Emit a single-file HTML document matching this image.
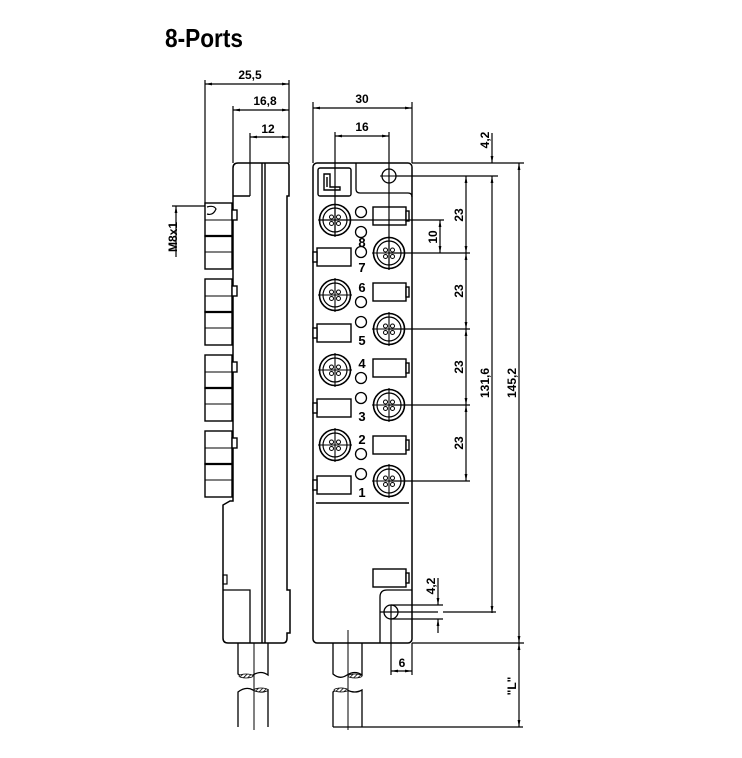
<!DOCTYPE html>
<html><head><meta charset="utf-8"><style>
html,body{margin:0;padding:0;background:#fff;}
svg{display:block;}
text{font-family:"Liberation Sans Narrow","Liberation Sans",sans-serif;font-weight:bold;fill:#000;}
</style></head><body>
<svg width="742" height="758" viewBox="0 0 742 758" xmlns="http://www.w3.org/2000/svg">
<defs>
<marker id="a" viewBox="0 0 10 10" refX="10" refY="5" markerWidth="6" markerHeight="6" orient="auto-start-reverse"><path d="M0,3 L10,5 L0,7z" fill="#000"/></marker>
<pattern id="h" width="3" height="3" patternUnits="userSpaceOnUse" patternTransform="rotate(45)"><rect width="3" height="3" fill="#fff"/><line x1="0" y1="0" x2="0" y2="3" stroke="#000" stroke-width="1.6"/></pattern>
<g id="port" fill="none" stroke="#000">
<circle r="15.5" stroke-width="1.6"/><circle r="12" stroke-width="1.2"/>
<circle cx="-3.5" cy="-3" r="2" stroke-width="1"/><circle cx="3.5" cy="-3" r="2" stroke-width="1"/><circle cx="-3.5" cy="3.5" r="2" stroke-width="1"/><circle cx="3.5" cy="3.5" r="2" stroke-width="1"/>
<line x1="-17" y1="0" x2="17" y2="0" stroke-width="1.1"/><line x1="0" y1="-17" x2="0" y2="17" stroke-width="1.1"/>
</g>
<g id="rr" fill="#fff" stroke="#000" stroke-width="1.4"><rect x="0" y="-9" width="33" height="18"/><rect x="33" y="-5" width="3" height="10"/></g>
<g id="rl" fill="#fff" stroke="#000" stroke-width="1.4"><rect x="0" y="-9" width="34" height="18"/><rect x="-4" y="-5" width="4" height="10"/></g>
<g id="cg" fill="#fff" stroke="#000" stroke-width="1.4">
<rect x="205" y="0" width="27" height="33"/><line x1="205" y1="17" x2="232" y2="17" stroke-width="1"/>
<rect x="205" y="33" width="27" height="33"/><line x1="205" y1="49" x2="232" y2="49" stroke-width="1"/>
<line x1="205" y1="33" x2="232" y2="33" stroke-width="2.2"/>
<rect x="232" y="7" width="5" height="10"/>
</g>
</defs>

<text x="165" y="47" font-size="26" textLength="78" lengthAdjust="spacingAndGlyphs">8-Ports</text>

<g stroke="#000" stroke-width="1.2" fill="none">
<line x1="205" y1="80" x2="205" y2="206"/>
<line x1="289" y1="80" x2="289" y2="163"/>
<line x1="205" y1="84" x2="289" y2="84" marker-start="url(#a)" marker-end="url(#a)"/>
<line x1="233" y1="106" x2="233" y2="163"/>
<line x1="233" y1="110" x2="289" y2="110" marker-start="url(#a)" marker-end="url(#a)"/>
<line x1="250" y1="133" x2="250" y2="196"/>
<line x1="250" y1="137" x2="289" y2="137" marker-start="url(#a)" marker-end="url(#a)"/>
<line x1="172" y1="206" x2="206" y2="206"/>
<line x1="176" y1="206" x2="176" y2="257" marker-start="url(#a)"/>

<path d="M233,196 V168 Q233,163 238,163 H287 Q289,163 289,166 V196 H287 V590 H290 V633 H287 V638 Q287,643 283,643 H228 Q223,643 223,638 V505 L230,501 H233 V196 H250" stroke-width="1.5"/>
<line x1="262" y1="163" x2="262" y2="643" stroke-width="1.4"/>
<line x1="265" y1="163" x2="265" y2="643" stroke-width="1.4"/>
<path d="M223,590 H250 V643" stroke-width="1.3"/>
<rect x="223" y="575" width="4" height="9"/>
</g>
<use href="#cg" transform="translate(0,203)"/>
<use href="#cg" transform="translate(0,279)"/>
<use href="#cg" transform="translate(0,355)"/>
<use href="#cg" transform="translate(0,431)"/>
<path d="M207,207 Q214,205 216,209 Q213,216 207,214" fill="none" stroke="#000" stroke-width="1.2"/>

<g stroke="#000" stroke-width="1.3" fill="none">
<path d="M238,643 V674 Q246,680 253,675 Q261,670 268,675 V643"/>
<path d="M238,727 V692 Q246,686 253,690 Q261,694 268,690 V727"/>
<path d="M333,643 V674 Q340,680 347,675 Q355,670 362,675 V643"/>
<path d="M333,727 V692 Q340,686 347,690 Q355,694 362,690 V727"/>
<line x1="254" y1="643" x2="254" y2="730" stroke-width="1"/>
<line x1="348" y1="630" x2="348" y2="730" stroke-width="1"/>
<line x1="333" y1="727" x2="523" y2="727"/>
</g>
<g fill="url(#h)" stroke="#000" stroke-width="0.8"><ellipse cx="246" cy="676" rx="7" ry="2"/><ellipse cx="261" cy="690" rx="7" ry="2"/><ellipse cx="341" cy="690" rx="7" ry="2"/><ellipse cx="355" cy="676" rx="7" ry="2"/></g>

<g stroke="#000" stroke-width="1.5" fill="none">
<rect x="313" y="163" width="99" height="480" rx="4"/>
<path d="M316,503 H409" />
<rect x="318" y="168" width="33" height="28" rx="2" stroke-width="1.4"/>
<path d="M324,174 H330 V187 H340 V190 H324Z M327,177 V187" stroke-width="1.4"/>
<path d="M356,163 V189 Q356,193 360,193 H408 Q412,193 412,197" stroke-width="1.3"/>
<circle cx="389" cy="176" r="7" stroke-width="1.3"/>
<line x1="380" y1="176" x2="398" y2="176" stroke-width="1"/>
<path d="M380,643 V597 Q380,590 387,590 H412" stroke-width="1.3"/>
<circle cx="391" cy="612" r="7" stroke-width="1.3"/>
</g>
<use href="#rr" transform="translate(373,578)"/>

<use href="#port" transform="translate(335,220)"/>
<use href="#port" transform="translate(335,295)"/>
<use href="#port" transform="translate(335,370)"/>
<use href="#port" transform="translate(335,445)"/>
<use href="#port" transform="translate(389,253)"/>
<use href="#port" transform="translate(389,329)"/>
<use href="#port" transform="translate(389,405)"/>
<use href="#port" transform="translate(389,481)"/>
<use href="#rr" transform="translate(373,216)"/>
<use href="#rr" transform="translate(373,292)"/>
<use href="#rr" transform="translate(373,368)"/>
<use href="#rr" transform="translate(373,445)"/>
<use href="#rl" transform="translate(317,257)"/>
<use href="#rl" transform="translate(317,333)"/>
<use href="#rl" transform="translate(317,408)"/>
<use href="#rl" transform="translate(317,485)"/>
<g fill="#fff" stroke="#000" stroke-width="1.3">
<circle cx="361" cy="212" r="5.5"/><circle cx="361" cy="232" r="5.5"/><circle cx="361" cy="252" r="5.5"/>
<circle cx="361" cy="302" r="5.5"/><circle cx="361" cy="322" r="5.5"/>
<circle cx="361" cy="378" r="5.5"/><circle cx="361" cy="398" r="5.5"/>
<circle cx="361" cy="454" r="5.5"/><circle cx="361" cy="474" r="5.5"/>
</g>
<g font-size="13" text-anchor="middle">
<text x="362" y="247">8</text><text x="362" y="272">7</text>
<text x="362" y="292">6</text><text x="362" y="345">5</text>
<text x="362" y="368">4</text><text x="362" y="421">3</text>
<text x="362" y="444">2</text><text x="362" y="497">1</text>
</g>

<g stroke="#000" stroke-width="1.2" fill="none">
<line x1="313" y1="102" x2="313" y2="163"/>
<line x1="412" y1="102" x2="412" y2="163"/>
<line x1="313" y1="108" x2="412" y2="108" marker-start="url(#a)" marker-end="url(#a)"/>
<line x1="335" y1="132" x2="335" y2="236"/>
<line x1="389" y1="132" x2="389" y2="270"/>
<line x1="335" y1="136" x2="389" y2="136" marker-start="url(#a)" marker-end="url(#a)"/>
<line x1="412" y1="163" x2="524" y2="163"/>
<line x1="396" y1="176" x2="498" y2="176"/>
<line x1="320" y1="220" x2="444" y2="220"/>
<line x1="389" y1="253" x2="470" y2="253"/>
<line x1="389" y1="329" x2="470" y2="329"/>
<line x1="389" y1="405" x2="470" y2="405"/>
<line x1="389" y1="481" x2="470" y2="481"/>
<line x1="440" y1="220" x2="440" y2="253" marker-start="url(#a)" marker-end="url(#a)"/>
<line x1="466" y1="176" x2="466" y2="253" marker-start="url(#a)" marker-end="url(#a)"/>
<line x1="466" y1="253" x2="466" y2="329" marker-start="url(#a)" marker-end="url(#a)"/>
<line x1="466" y1="329" x2="466" y2="405" marker-start="url(#a)" marker-end="url(#a)"/>
<line x1="466" y1="405" x2="466" y2="481" marker-start="url(#a)" marker-end="url(#a)"/>
<line x1="492" y1="133" x2="492" y2="163" marker-end="url(#a)"/>
<line x1="492" y1="176" x2="492" y2="613" marker-start="url(#a)" marker-end="url(#a)"/>
<line x1="519" y1="163" x2="519" y2="643" marker-start="url(#a)" marker-end="url(#a)"/>
<line x1="519" y1="643" x2="519" y2="727" marker-start="url(#a)" marker-end="url(#a)"/>
<line x1="412" y1="643" x2="524" y2="643"/>
<line x1="391" y1="605" x2="443" y2="605"/>
<line x1="391" y1="619" x2="443" y2="619"/>
<line x1="380" y1="612" x2="438" y2="612"/>
<line x1="443" y1="612" x2="496" y2="612"/>
<line x1="438" y1="578" x2="438" y2="605" marker-end="url(#a)"/>
<line x1="438" y1="633" x2="438" y2="619" marker-end="url(#a)"/>
<line x1="391" y1="605" x2="391" y2="675"/>
<line x1="412" y1="643" x2="412" y2="675"/>
<line x1="391" y1="671" x2="412" y2="671" marker-start="url(#a)" marker-end="url(#a)"/>
</g>
<g font-size="12" text-anchor="middle">
<text x="250" y="79">25,5</text>
<text x="265" y="105">16,8</text>
<text x="268" y="133">12</text>
<text x="362" y="103">30</text>
<text x="362" y="131">16</text>
<text x="402" y="667">6</text>
<text transform="translate(177,237) rotate(-90)">M8x1</text>
<text transform="translate(437,237) rotate(-90)">10</text>
<text transform="translate(463,215) rotate(-90)">23</text>
<text transform="translate(463,291) rotate(-90)">23</text>
<text transform="translate(463,367) rotate(-90)">23</text>
<text transform="translate(463,443) rotate(-90)">23</text>
<text transform="translate(489,383) rotate(-90)">131,6</text>
<text transform="translate(516,383) rotate(-90)">145,2</text>
<text transform="translate(489,140) rotate(-90)">4,2</text>
<text transform="translate(435,586) rotate(-90)">4,2</text>
<text transform="translate(516,686) rotate(-90)">"L"</text>
</g>
</svg>
</body></html>
